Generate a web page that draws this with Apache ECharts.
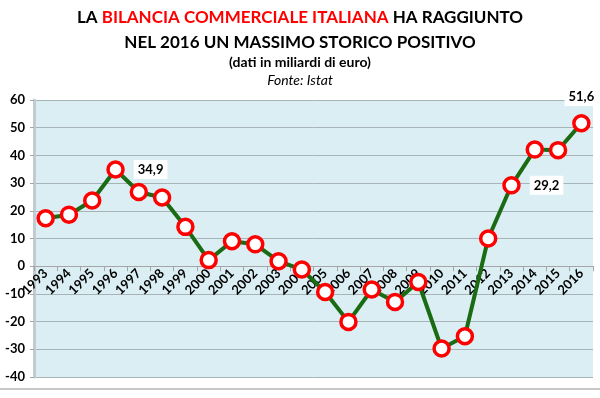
<!DOCTYPE html>
<html>
<head>
<meta charset="utf-8">
<script src="https://cdn.jsdelivr.net/npm/echarts@6/dist/echarts.min.js"></script>
<style>
  html, body { margin: 0; padding: 0; background: #fff; }
  #chart { width: 600px; height: 398px; }
</style>
</head>
<body>
<div id="chart"></div>
<script>
// saldo commerciale in miliardi di euro
var anni = ['1993', '1994', '1995', '1996', '1997', '1998', '1999', '2000', '2001', '2002', '2003', '2004',
  '2005', '2006', '2007', '2008', '2009', '2010', '2011', '2012', '2013', '2014', '2015', '2016']
var saldo = [17.3, 18.6, 23.7, 34.9, 26.8, 24.8, 14.2, 2.2, 9.0, 7.9, 1.8, -1.2,
  -9.3, -20.1, -8.4, -12.9, -5.7, -29.7, -25.3, 10.0, 29.2, 42.1, 41.9, 51.6]
var etichette = { '1996': 'right', '2013': 'right', '2016': 'top' } // punti con valore scritto
var yTicks = [-40, -30, -20, -10, 0, 10, 20, 30, 40, 50, 60]

var gridTop = 100, gridBottom = 21
var chart = echarts.init(document.getElementById('chart'))

// asse x sullo zero: spostamento dal fondo della griglia
var altezza = 398 - gridTop - gridBottom
var yMin = yTicks[0], yMax = yTicks[yTicks.length - 1]
var offsetZero = -altezza * (0 - yMin) / (yMax - yMin)

var punti = saldo.map(function (v, i) {
  var pos = etichette[anni[i]]
  if (!pos) return v
  return {
    value: v,
    label: {
      show: true,
      position: pos,
      distance: pos === 'top' ? 8 : 9,
      formatter: String(v.toFixed(1)).replace('.', ','),
      backgroundColor: '#fff',
      padding: [3, 4],
      color: '#000',
      fontWeight: 'bold',
      fontSize: 13,
      fontFamily: 'Lato'
    }
  }
})

chart.setOption({
  backgroundColor: '#fff',
  title: [{
    text: '{k|LA }{r|BILANCIA COMMERCIALE ITALIANA}{k| HA RAGGIUNTO}\n{k|NEL 2016 UN MASSIMO STORICO POSITIVO}',
    left: 'center',
    top: 0,
    textStyle: {
      rich: {
        k: { fontSize: 17, fontWeight: 'bold', color: '#000', fontFamily: 'Lato', lineHeight: 25 },
        r: { fontSize: 17, fontWeight: 'bold', color: '#ff0000', fontFamily: 'Lato', lineHeight: 25 }
      }
    }
  }, {
    text: '(dati in miliardi di euro)',
    left: 'center',
    top: 50,
    textStyle: { fontSize: 14, fontWeight: 'bold', color: '#000', fontFamily: 'Lato' }
  }, {
    text: 'Fonte: Istat',
    left: 'center',
    top: 68,
    textStyle: { fontSize: 14, fontStyle: 'italic', fontWeight: 'normal', color: '#000', fontFamily: 'Lato' }
  }],
  graphic: [{
    type: 'rect',
    left: 0,
    top: 388,
    shape: { width: 600, height: 2 },
    style: { fill: '#c8c8c8' },
    silent: true
  }],
  grid: {
    left: 34, right: 7, top: gridTop, bottom: gridBottom,
    show: true,
    backgroundColor: '#daeef3',
    borderWidth: 0
  },
  xAxis: {
    type: 'category',
    data: anni,
    boundaryGap: true,
    position: 'bottom',
    offset: offsetZero,
    axisLine: { onZero: false, lineStyle: { color: '#a6a6a6', width: 1 } },
    axisTick: { show: true, interval: 0, length: 5, lineStyle: { color: '#a6a6a6' } },
    axisLabel: {
      interval: 0,
      rotate: 45,
      margin: 5,
      color: '#000',
      fontWeight: 'bold',
      fontSize: 13,
      fontFamily: 'Lato'
    }
  },
  yAxis: {
    type: 'value',
    min: yMin,
    max: yMax,
    interval: 10,
    axisLine: { show: true, lineStyle: { color: '#c0ccd0', width: 3 } },
    axisTick: { show: true, length: 4, lineStyle: { color: '#a6a6a6' } },
    splitLine: { lineStyle: { color: '#a6b4b8', width: 1 } },
    axisLabel: {
      color: '#000',
      fontWeight: 'bold',
      fontSize: 13,
      fontFamily: 'Lato',
      margin: 9
    }
  },
  series: [{
    type: 'line',
    data: punti,
    symbol: 'circle',
    symbolSize: 15,
    z: 3,
    lineStyle: { color: '#1a6b14', width: 4 },
    itemStyle: { color: '#fff', borderColor: '#ff0000', borderWidth: 3.5 }
  }]
})

window.addEventListener('resize', function () { chart.resize() })
</script>
</body>
</html>
